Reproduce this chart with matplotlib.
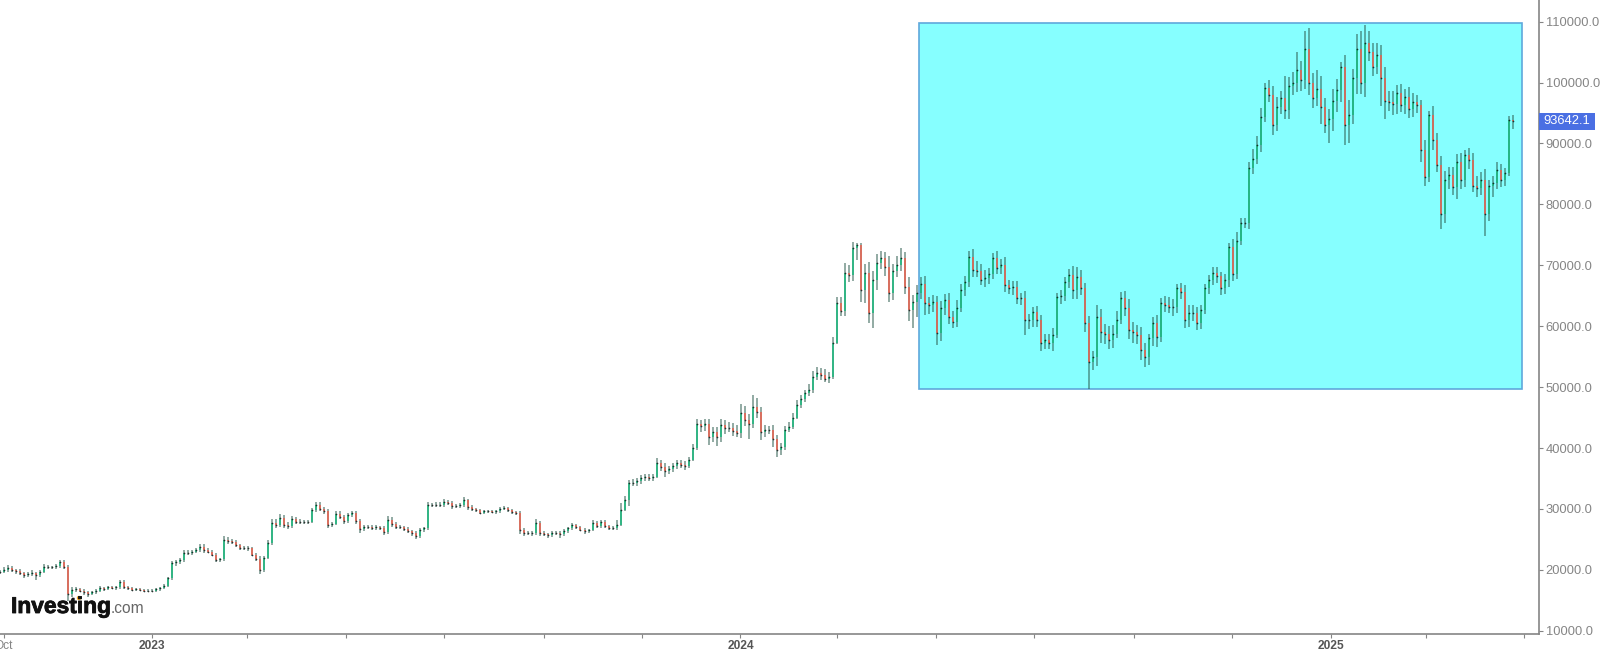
import matplotlib
matplotlib.use("Agg")
import matplotlib.pyplot as plt
import matplotlib.dates as mdates
import matplotlib.patheffects as pe
from matplotlib.patches import Rectangle, Circle
from matplotlib.transforms import blended_transform_factory
import pandas as pd
import numpy as np

plt.rcParams['font.family'] = ['Liberation Sans', 'DejaVu Sans']

# BTC/USD closes (thousands of USD)
closes = [
 19.7,20.0,20.3,20.0,19.8,19.5,19.2,19.3,19.5,19.2,
 19.6,20.5,20.4,20.5,20.6,21.3,20.4,16.0,16.7,16.8,
 16.6,16.3,16.1,16.3,16.6,17.0,16.9,17.1,17.0,17.1,
 18.0,17.2,17.0,16.7,16.8,16.7,16.6,16.5,16.6,16.8,
 17.0,17.4,18.6,21.1,21.2,21.6,22.8,22.8,23.0,23.2,
 23.8,23.2,23.0,22.5,21.6,21.7,24.9,24.8,24.6,24.0,
 23.6,23.5,23.6,22.5,21.8,20.0,22.0,24.4,27.7,27.4,
 28.5,27.3,27.2,28.3,27.9,27.9,27.9,27.9,29.8,30.6,
 30.0,29.6,27.4,27.6,29.2,28.7,28.0,29.0,29.3,28.0,
 26.7,27.0,27.1,26.9,27.0,26.9,26.2,28.2,27.5,27.1,
 27.0,26.7,26.3,26.0,25.5,26.5,26.8,30.6,30.6,30.7,
 30.6,31.1,31.0,30.4,30.5,30.6,31.4,30.3,30.0,29.8,
 29.4,29.6,29.6,29.5,29.6,30.0,30.1,29.8,29.5,29.3,
 26.5,26.0,26.1,26.0,27.7,26.0,25.9,25.7,26.0,26.1,
 25.8,26.4,26.8,27.3,27.0,26.6,26.3,26.5,27.7,27.2,
 27.8,27.2,26.9,26.8,27.4,29.8,31.5,34.3,34.3,34.6,
 35.0,35.2,35.0,35.3,37.5,36.9,36.3,36.6,37.0,37.5,
 37.2,37.0,38.0,40.0,44.0,43.6,44.0,41.8,42.6,41.8,
 43.8,43.3,43.3,42.8,42.5,45.7,44.6,44.0,46.7,45.9,
 42.6,42.9,43.0,41.5,39.7,40.2,43.0,43.5,45.0,47.0,
 48.0,49.0,49.6,51.7,52.3,52.0,51.3,51.7,57.3,63.8,
 62.5,68.8,68.4,72.8,73.3,66.0,68.8,62.2,67.6,70.4,
 71.2,69.8,65.5,69.0,70.0,71.2,66.5,62.7,64.0,65.5,
 67.0,63.8,63.5,64.0,58.9,63.0,64.3,61.5,60.7,63.0,
 66.0,67.3,71.4,69.2,69.0,67.6,67.9,68.5,71.2,69.5,
 70.0,66.8,66.3,66.5,64.6,64.6,61.0,61.0,62.3,61.0,
 57.2,57.8,57.2,58.5,64.8,65.0,67.3,68.4,66.0,68.1,
 66.3,60.5,54.1,55.0,61.5,59.0,58.8,57.7,58.8,61.0,
 64.6,63.0,59.4,59.0,58.5,56.1,55.0,58.0,60.5,58.2,
 63.8,63.5,63.2,63.2,66.3,65.6,61.0,62.2,62.2,60.5,
 62.7,66.3,67.6,68.8,68.2,66.3,67.6,73.0,68.5,74.0,
 77.0,77.0,86.0,87.5,89.8,94.4,99.1,98.0,93.0,96.0,
 97.5,95.5,99.5,100.0,102.0,100.5,105.5,100.0,97.5,99.0,
 96.0,93.0,94.0,97.0,98.8,102.6,93.0,94.7,100.7,105.5,
 100.0,106.5,105.0,102.6,104.5,100.7,97.0,96.8,96.5,98.3,
 96.4,97.6,95.6,96.8,96.3,89.0,84.5,94.7,90.6,86.5,
 78.5,84.0,84.8,82.9,87.0,84.0,88.1,87.3,83.0,82.7,
 84.0,78.5,83.0,83.5,85.7,84.0,85.2,93.8,93.64,
]
wick_up = [
 .3,.4,.5,.3,.2,.3,.2,.3,.4,.2,
 .3,.4,.3,.2,.4,.3,.3,.4,.4,.3,
 .2,.3,.3,.2,.3,.3,.2,.2,.3,.2,
 .4,.3,.2,.2,.2,.2,.1,.2,.2,.2,
 .2,.3,.2,.3,.4,.3,.5,.4,.3,.4,
 .4,.5,.3,.3,.3,.3,.7,.5,.3,.3,
 .3,.3,.3,.2,.3,.4,.3,.5,.6,.7,
 .6,.5,.5,.5,.3,.4,.3,.3,.4,.5,
 .5,.3,.4,.3,.5,.4,.3,.4,.4,.3,
 .3,.3,.3,.3,.3,.2,.3,.6,.4,.3,
 .3,.2,.3,.3,.4,.3,.3,.6,.4,.4,
 .4,.5,.4,.3,.3,.3,.5,.2,.3,.2,
 .2,.2,.2,.3,.2,.3,.3,.2,.2,.2,
 .3,.3,.2,.2,.6,.3,.3,.2,.3,.3,
 .2,.3,.3,.4,.3,.2,.2,.2,.5,.3,
 .3,.3,.2,.3,.8,1.2,.7,.4,.6,.4,
 .5,.5,.6,.4,.8,.6,.7,.5,.5,.6,
 .5,.6,.5,.6,.7,.6,.8,.7,.8,.9,
 .9,.8,.9,.8,.9,1.6,1.2,1.0,2.0,1.5,
 .9,.8,.6,.7,.6,.7,.6,.7,.8,.8,
 .7,.6,.9,1.0,1.0,.9,.9,.7,.9,1.0,
 1.0,1.6,1.3,1.0,.4,.3,1.4,1.8,1.5,1.4,
 1.2,1.0,1.8,1.2,1.6,1.6,1.0,1.5,1.2,1.3,
 1.0,1.2,1.0,1.2,1.0,1.1,1.0,1.2,1.0,1.3,
 1.0,1.0,.9,1.2,1.5,1.2,1.3,1.0,.9,1.2,
 1.0,1.3,.8,1.0,.9,.9,1.2,1.0,.8,1.0,
 .9,1.0,1.0,1.2,.6,1.0,.8,1.0,1.5,1.6,
 1.2,.8,1.2,1.0,2.0,1.3,1.4,1.2,1.4,1.5,
 1.0,1.2,1.5,1.3,1.2,1.3,1.2,.8,1.0,1.3,
 .8,1.2,1.3,1.2,.6,.8,1.2,1.3,1.2,1.0,
 .8,.6,.8,1.0,.9,.7,1.0,.6,1.3,1.5,
 .8,.7,1.0,1.6,1.5,1.5,.8,1.3,1.4,1.6,
 1.2,3.5,1.4,1.8,3.0,1.6,3.0,3.5,1.5,3.0,
 2.0,1.5,1.6,2.0,1.8,.8,2.0,2.5,1.5,2.5,
 3.0,3.0,2.0,1.5,2.0,1.6,1.8,1.6,1.8,1.3,
 1.5,1.4,1.6,1.5,1.2,.8,1.5,.6,1.5,1.2,
 1.4,1.5,1.3,1.3,1.2,1.5,.8,1.2,1.2,1.6,
 1.3,1.8,1.0,1.2,1.3,1.0,.8,.7,.8,
]
wick_down = [
 .4,.3,.3,.4,.5,.4,.5,.4,.3,.8,
 .3,.2,.3,.2,.4,.3,.3,1.1,.4,.3,
 .3,.4,.5,.3,.2,.2,.3,.2,.2,.3,
 .2,.3,.3,.2,.2,.2,.2,.1,.2,.2,
 .2,.2,.2,.2,.4,.3,.3,.4,.3,.3,
 .3,.4,.3,.3,.4,.3,.3,.5,.4,.3,
 .3,.3,.4,.3,.3,.7,.3,.3,.3,.5,
 .4,.5,.5,.4,.4,.3,.4,.3,.2,.3,
 .3,.5,.6,.3,.3,.4,.4,.3,.4,.5,
 .7,.4,.3,.3,.3,.4,.5,.3,.4,.4,
 .3,.4,.3,.5,.5,.3,.3,.2,.3,.3,
 .3,.3,.3,.4,.3,.3,.3,.4,.3,.3,
 .3,.2,.2,.2,.3,.2,.2,.3,.3,.3,
 .7,.5,.3,.4,.3,.5,.4,.5,.3,.3,
 .6,.3,.3,.2,.3,.3,.4,.3,.2,.3,
 .3,.3,.3,.3,.2,.2,.2,1.0,.6,.5,
 .5,.4,.5,.4,.3,.7,1.0,.5,.6,.4,
 .5,.6,.3,.2,.4,1.0,.8,1.3,.8,1.5,
 .8,1.0,.7,.8,.7,.9,1.0,2.5,.7,1.0,
 1.3,.8,.6,1.3,1.2,.9,.5,.4,.4,.3,
 .4,.5,.4,.5,.6,.8,.5,.6,.4,.3,
 .9,.8,1.2,1.0,2.0,2.0,2.2,1.7,2.5,1.6,
 1.0,1.5,1.5,1.2,1.0,.9,1.2,1.8,3.0,2.5,
 1.0,2.0,1.5,1.2,2.0,1.3,1.2,1.2,1.0,.8,
 .6,1.0,.8,1.2,1.0,.9,1.2,1.0,.8,1.0,
 1.0,1.2,1.0,1.2,1.0,1.2,2.5,1.5,1.2,1.2,
 1.2,1.0,1.0,1.2,.5,1.2,.9,1.0,1.5,1.5,
 1.2,1.5,4.4,1.3,1.5,1.8,1.7,1.4,1.2,.8,
 .7,1.3,1.5,1.8,1.5,1.6,1.7,1.3,1.2,1.6,
 .8,1.2,1.0,1.6,1.0,1.2,1.3,1.2,1.4,1.2,
 .9,.7,1.0,.9,1.1,1.2,1.0,1.2,1.0,.8,
 .7,.8,1.0,1.0,.8,1.2,.8,1.2,1.6,1.0,
 1.2,1.5,1.4,1.5,1.5,1.8,1.5,2.0,1.6,1.4,
 2.8,1.2,3.0,2.0,1.8,2.0,3.2,3.0,1.5,2.5,
 1.8,2.4,1.5,1.5,1.2,4.5,3.0,1.4,1.8,1.6,
 1.2,1.5,1.4,1.2,1.3,2.0,1.5,.8,1.6,1.2,
 2.5,1.5,1.5,1.4,2.0,1.5,1.2,1.5,1.0,1.5,
 1.2,3.7,1.2,1.8,1.0,1.2,1.0,.6,1.2,
]

start_date = pd.Timestamp('2022-09-28 16:00')
bar_step = '3576min'
end_date = pd.Timestamp('2025-05-10 03:00')
last_price = 93642.1
rect_start = pd.Timestamp('2024-04-21')
rect_end = pd.Timestamp('2025-04-30')
rect_low, rect_high = 49.7, 109.8

ytick_values = [10, 20, 30, 40, 50, 60, 70, 80, 90, 100, 110]
xtick_dates = ['2022-10-01','2023-01-01','2023-03-01','2023-05-01','2023-07-01','2023-09-01',
               '2023-11-01','2024-01-01','2024-03-01','2024-05-01','2024-07-01','2024-09-01',
               '2024-11-01','2025-01-01','2025-03-01','2025-05-01']
xtick_labels = ['Oct','2023','','','','','','2024','','','','','','2025','','']

closes = np.array(closes)
opens = np.r_[closes[0], closes[:-1]]
highs = np.maximum(opens, closes) + np.array(wick_up)
lows = np.minimum(opens, closes) - np.array(wick_down)
dates = mdates.date2num(pd.date_range(start_date, periods=len(closes), freq=bar_step))

W, H = 1600, 649
fig = plt.figure(figsize=(W/100, H/100), dpi=100, facecolor='white')
ax = fig.add_axes([0, 15/H, 1538.7/W, 1-15/H])
ax.set_facecolor('white')
ax.set_xlim(mdates.date2num(start_date), mdates.date2num(end_date))
ax.set_ylim(9.46, 113.56)

rs, re_ = mdates.date2num(rect_start), mdates.date2num(rect_end)
ax.add_patch(Rectangle((rs, rect_low), re_-rs, rect_high-rect_low,
                       facecolor='#86ffff', edgecolor='#5fa8dc', lw=1.2, zorder=1))

up = closes >= opens
ax.vlines(dates, lows, highs, color='#2b5a4c', alpha=0.6, lw=1.2, zorder=2)
ax.vlines(dates[up], opens[up], closes[up], color='#17b97c', lw=1.1, zorder=3)
ax.vlines(dates[~up], opens[~up], closes[~up], color='#ee5f4c', lw=1.1, zorder=3)
ax.scatter(dates, closes, s=1.5, color='#111111', linewidths=0, alpha=0.8, zorder=4)

for s in ('top', 'left'):
    ax.spines[s].set_visible(False)
for s in ('right', 'bottom'):
    ax.spines[s].set_color('#858585')
    ax.spines[s].set_linewidth(1.2)

ax.yaxis.tick_right()
ax.set_yticks(ytick_values)
ax.set_yticklabels([f'{v*1000:.1f}' for v in ytick_values])
ax.tick_params(axis='y', direction='out', length=3, width=0.8, color='#858585',
               labelcolor='#858585', labelsize=9.3, pad=2)
ax.set_xticks(mdates.date2num(pd.to_datetime(xtick_dates)))
ax.set_xticklabels(xtick_labels)
ax.tick_params(axis='x', direction='out', length=3, width=0.8, color='#858585',
               labelcolor='#555555', labelsize=8.6, pad=1)
for t in ax.get_xticklabels():
    if t.get_text() != 'Oct':
        t.set_fontweight('bold')
    else:
        t.set_color('#858585')

# Last-price tag
tr = blended_transform_factory(fig.transFigure, ax.transData)
lp = last_price/1000
fig.add_artist(Rectangle((1539/W, lp-1.4), 56/W, 2.8, transform=tr,
                         facecolor='#4a6fe3', edgecolor='none', zorder=5))
fig.text(1567/W, lp, f'{last_price:.1f}', transform=tr, color='white', fontsize=9.3,
         ha='center', va='center', zorder=6)

# Logo
logo = fig.text(11/W, (H-613)/H, 'Investing', fontsize=16.4, fontweight='bold', color='#111111',
                ha='left', va='baseline')
logo.set_path_effects([pe.withStroke(linewidth=0.6, foreground='#111111')])
fig.text(111/W, (H-613)/H, '.com', fontsize=11.2, color='#666666', ha='left', va='baseline')
fig.add_artist(Circle((79, H-598), 2.2, transform=None, facecolor='#f7a823', edgecolor='none'))

fig.savefig('out.png', dpi=100)
